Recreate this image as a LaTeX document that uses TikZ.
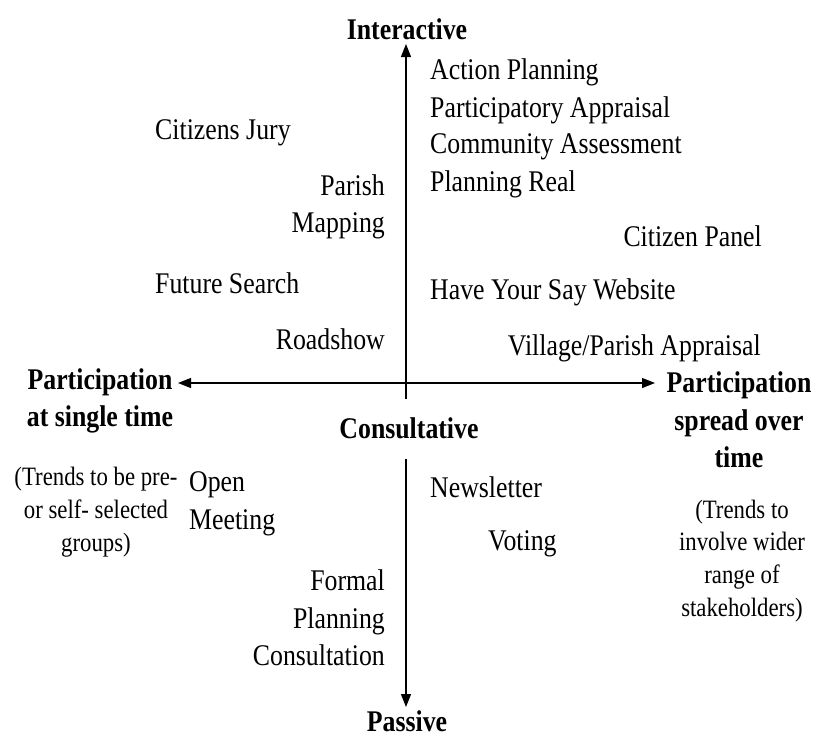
\documentclass[tikz,border=0pt]{standalone}
\usepackage{fontspec}
\setmainfont{Liberation Serif}[FakeStretch=0.86]
\usetikzlibrary{arrows.meta}
\begin{document}
\begin{tikzpicture}[x=1pt,y=-1pt,
  lbl/.style={inner sep=0pt, font=\fontsize{30}{37.5}\selectfont, align=left},
  lblr/.style={inner sep=0pt, font=\fontsize{30}{37.5}\selectfont, align=right},
  ax/.style={inner sep=0pt, font=\fontsize{30}{37.5}\selectfont\bfseries, align=center},
  note/.style={inner sep=0pt, font=\fontsize{26.5}{32.8}\selectfont, align=center},
  axis/.style={line width=1.1pt, -{Triangle[length=13pt,width=10pt]}}]
\useasboundingbox (0,0) rectangle (817,737);
% axes
\coordinate (o) at (406,383);
\coordinate (tl) at (178,383);
\coordinate (tr) at (655,383);
\coordinate (vt) at (406,44);
\coordinate (va) at (406,399);
\coordinate (vb) at (406,459);
\coordinate (vd) at (406,707);
\draw[axis] (o) -- (tl);
\draw[axis] (o) -- (tr);
\draw[axis] (va) -- (vt);
\draw[axis] (vb) -- (vd);
% axis labels
\node[ax] (inter) at (407,29) {Interactive};
\node[ax] (pass) at (407,721) {Passive};
\node[ax] (consult) at (409,428) {Consultative};
\node[ax] (single) at (100,401) {Participation\\at single time};
\node[ax] (spread) at (739,420) {Participation\\spread over\\time};
\node[note] (n1) at (96,512) {(Trends to be pre-\\or self- selected\\groups)};
\node[note] (n2) at (742,561) {(Trends to\\involve wider\\range of\\stakeholders)};
% upper left
\node[lbl,anchor=west] (jury) at (155,133) {Citizens Jury};
\node[lblr,anchor=east] (parish) at (385,207) {Parish\\Mapping};
\node[lbl,anchor=west] (future) at (155,283) {Future Search};
\node[lblr,anchor=east] (road) at (385,339) {Roadshow};
% upper right
\node[lbl,anchor=west] (action) at (430,72) {Action Planning};
\node[lbl,anchor=west] (pa) at (430,110) {Participatory Appraisal};
\node[lbl,anchor=west] (ca) at (430,147) {Community Assessment};
\node[lbl,anchor=west] (pr) at (430,184) {Planning Real};
\node[lbl,anchor=east] (panel) at (762,236) {Citizen Panel};
\node[lbl,anchor=west] (hys) at (430,292) {Have Your Say Website};
\node[lbl,anchor=east] (vpa) at (761,348) {Village/Parish Appraisal};
% lower
\node[lbl,anchor=west] (open) at (189,504) {Open\\Meeting};
\node[lbl,anchor=west] (news) at (430,487) {Newsletter};
\node[lbl,anchor=west] (vote) at (488,544) {Voting};
\node[lblr,anchor=east] (formal) at (385,618) {Formal\\Planning\\Consultation};
\end{tikzpicture}
\end{document}
